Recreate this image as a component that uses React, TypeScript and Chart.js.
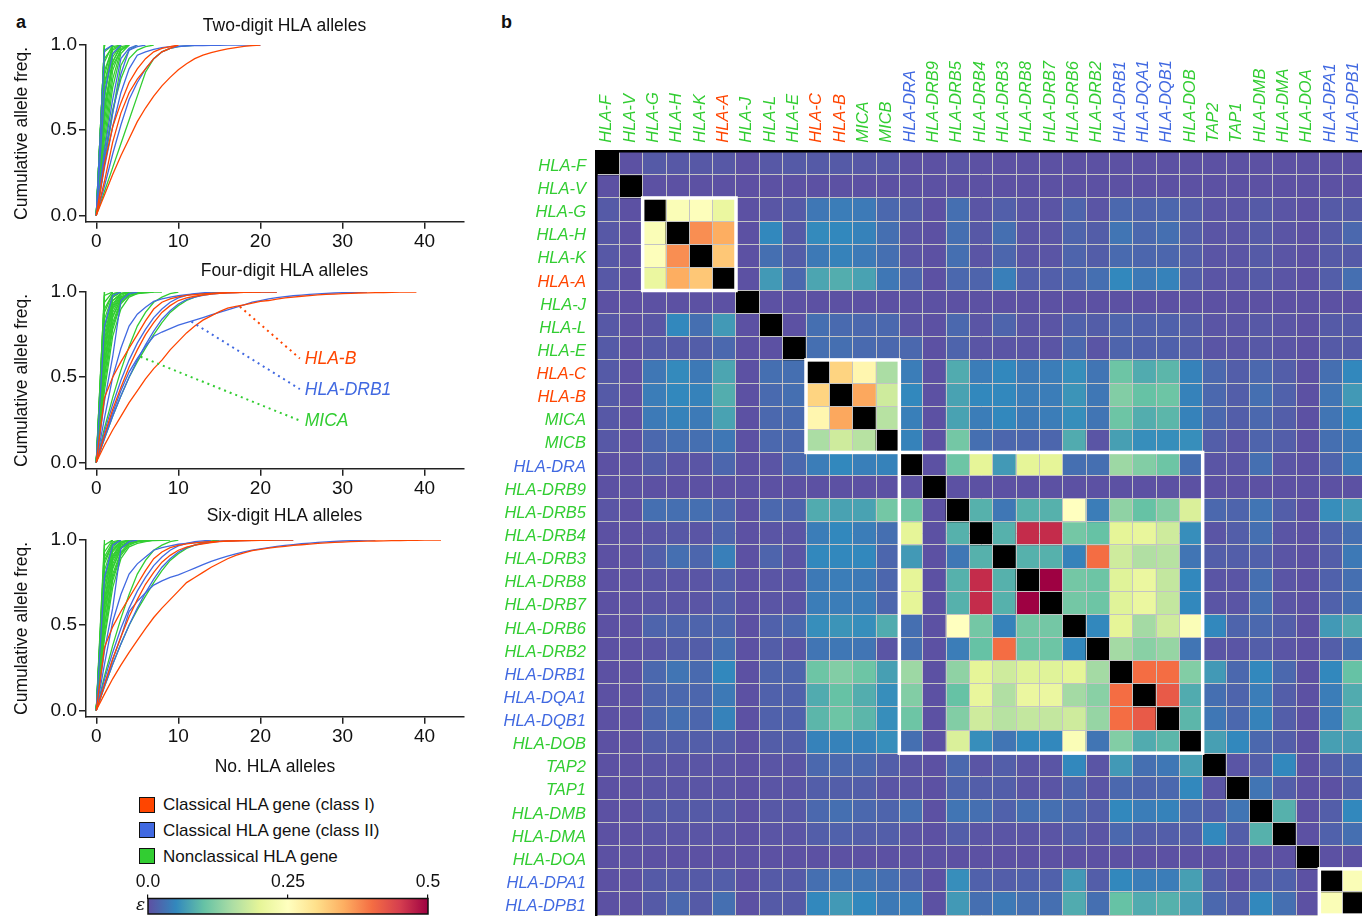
import React, { useEffect, useRef } from "react";
import { Chart, registerables } from "chart.js";

Chart.register(...registerables);
Chart.defaults.font.family = "'Liberation Sans', Arial, Helvetica, sans-serif";
Chart.defaults.color = "#111111";

const RED = "#ff4500";
const BLUE = "#4169e1";
const GREEN = "#32cd32";
const FONT = "'Liberation Sans', Arial, Helvetica, sans-serif";

// ---------------- Panel a : cumulative allele frequency curves ----------------
const xTickValues = [0, 10, 20, 30, 40];
const yTickValues = [0, 0.5, 1];

const twoDigitClassI = [
  [0, 0.3, 0.52, 0.66, 0.78, 0.86, 0.92, 0.96, 0.98, 0.99, 1],
  [0, 0.12, 0.24, 0.35, 0.45, 0.55, 0.63, 0.7, 0.76, 0.81, 0.855, 0.89, 0.92, 0.94, 0.955, 0.967, 0.977, 0.985, 0.992, 0.997, 1],
  [0, 0.2, 0.43, 0.6, 0.72, 0.8, 0.86, 0.92, 0.96, 0.98, 1],
];
const twoDigitClassII = [
  [0, 0.97, 1],
  [0, 0.28, 0.52, 0.72, 0.86, 0.94, 0.96, 0.975, 0.985, 0.99, 0.993, 0.995, 0.996, 0.997, 0.998, 0.9985, 0.999, 0.9994, 0.9997, 0.9999, 1],
  [0, 0.38, 0.68, 0.92, 0.98, 1],
  [0, 0.33, 0.6, 0.83, 0.97, 0.99, 1],
  [0, 0.72, 0.95, 1],
  [0, 0.17, 0.36, 0.53, 0.68, 0.78, 0.86, 0.92, 0.96, 0.98, 0.99, 0.995, 1],
];
const twoDigitNonclassical = [
  [0, 1], [0, 1], [0, 1], [0, 1], [0, 1],
  [0, 0.96, 1], [0, 0.9, 1], [0, 0.82, 1], [0, 0.75, 1], [0, 0.68, 1],
  [0, 0.85, 0.98, 1], [0, 0.7, 0.95, 1], [0, 0.6, 0.93, 1], [0, 0.55, 0.9, 1], [0, 0.78, 0.97, 1],
  [0, 0.5, 0.85, 0.98, 1], [0, 0.62, 0.9, 0.99, 1], [0, 0.45, 0.8, 0.97, 1],
  [0, 0.4, 0.75, 0.95, 1],
  [0, 0.3, 0.6, 0.88, 0.97, 1],
  [0, 0.35, 0.62, 0.8, 0.92, 0.97, 0.99, 1],
  [0, 0.14, 0.28, 0.42, 0.56, 0.7, 0.84, 0.92, 0.96, 0.98, 0.99, 0.995, 0.998, 1],
  [0, 0.92, 0.99, 1],
  [0, 0.65, 0.88, 0.97, 1],
];

const fourDigitClassI = [
  [0, 0.38, 0.5, 0.59, 0.67, 0.75, 0.83, 0.9, 0.94, 0.96, 0.972, 0.98, 0.985, 0.989, 0.992, 0.994, 0.996, 0.997, 0.998, 0.9987, 0.9993, 0.9997, 1],
  [0, 0.1, 0.19, 0.27, 0.35, 0.42, 0.49, 0.55, 0.6, 0.66, 0.71, 0.76, 0.8, 0.835, 0.86, 0.885, 0.905, 0.915, 0.925, 0.935, 0.945, 0.95, 0.958, 0.965, 0.97, 0.975, 0.979, 0.983, 0.986, 0.988, 0.99, 0.992, 0.994, 0.995, 0.996, 0.997, 0.998, 0.999, 0.9995, 1],
  [0, 0.16, 0.31, 0.44, 0.56, 0.66, 0.75, 0.82, 0.88, 0.92, 0.95, 0.965, 0.975, 0.982, 0.988, 0.992, 0.995, 0.997, 0.998, 0.999, 1],
];
const fourDigitClassII = [
  [0, 0.8, 0.98, 1],
  [0, 0.15, 0.29, 0.42, 0.53, 0.61, 0.68, 0.74, 0.765, 0.785, 0.805, 0.82, 0.835, 0.85, 0.865, 0.88, 0.895, 0.91, 0.925, 0.94, 0.95, 0.96, 0.967, 0.973, 0.978, 0.982, 0.986, 0.989, 0.992, 0.994, 0.996, 0.997, 0.998, 1],
  [0, 0.36, 0.62, 0.95, 0.99, 1],
  [0, 0.26, 0.5, 0.67, 0.8, 0.87, 0.91, 0.945, 0.96, 0.97, 0.978, 0.984, 0.989, 0.992, 0.994, 0.996, 0.997, 0.998, 0.9986, 0.999, 0.9995, 0.9998, 1],
  [0, 0.18, 0.34, 0.48, 0.6, 0.7, 0.78, 0.85, 0.9, 0.94, 0.965, 0.98, 0.99, 0.995, 1],
  [0, 0.14, 0.27, 0.39, 0.5, 0.6, 0.69, 0.77, 0.84, 0.89, 0.93, 0.955, 0.97, 0.98, 0.987, 0.992, 0.995, 0.997, 0.999, 1],
];
const fourDigitNonclassical = [
  [0, 0.14, 0.27, 0.39, 0.5, 0.59, 0.67, 0.75, 0.82, 0.88, 0.92, 0.95, 0.97, 0.985, 0.995, 1],
  [0, 0.2, 0.38, 0.54, 0.68, 0.8, 0.88, 0.94, 0.97, 0.99, 1],
  [0, 1], [0, 1], [0, 0.98, 1], [0, 0.94, 1], [0, 0.88, 0.99, 1], [0, 0.84, 0.98, 1],
  [0, 0.8, 0.97, 1], [0, 0.75, 0.95, 0.99, 1], [0, 0.7, 0.93, 0.99, 1], [0, 0.66, 0.91, 0.98, 1],
  [0, 0.6, 0.88, 0.97, 0.99, 1], [0, 0.55, 0.85, 0.96, 0.99, 1], [0, 0.5, 0.82, 0.95, 0.99, 1],
  [0, 0.46, 0.78, 0.93, 0.98, 0.995, 1], [0, 0.42, 0.74, 0.9, 0.97, 0.99, 1],
  [0, 0.63, 0.92, 0.99, 1], [0, 0.78, 0.97, 1], [0, 0.9, 0.99, 1], [0, 0.58, 0.86, 0.96, 1],
  [0, 0.72, 0.95, 0.99, 0.995, 0.998, 1], [0, 0.52, 0.8, 0.94, 0.98, 0.99, 0.995, 1],
  [0, 0.68, 0.9, 0.97, 0.99, 0.995, 0.997, 0.999, 1],
];

const sixDigitClassI = [
  [0, 0.37, 0.49, 0.58, 0.66, 0.74, 0.82, 0.89, 0.93, 0.955, 0.968, 0.977, 0.983, 0.987, 0.99, 0.992, 0.994, 0.995, 0.996, 0.997, 0.998, 0.9985, 0.999, 0.9995, 1],
  [0, 0.095, 0.185, 0.265, 0.34, 0.41, 0.48, 0.545, 0.6, 0.65, 0.7, 0.75, 0.78, 0.81, 0.84, 0.865, 0.89, 0.91, 0.925, 0.937, 0.945, 0.952, 0.958, 0.963, 0.968, 0.972, 0.976, 0.98, 0.983, 0.986, 0.988, 0.99, 0.992, 0.993, 0.994, 0.995, 0.996, 0.997, 0.998, 0.9985, 0.999, 0.9995, 1],
  [0, 0.15, 0.3, 0.43, 0.55, 0.65, 0.74, 0.81, 0.87, 0.91, 0.94, 0.958, 0.97, 0.978, 0.985, 0.99, 0.993, 0.995, 0.997, 0.998, 0.999, 1],
];
const sixDigitClassII = [
  [0, 0.78, 0.97, 1],
  [0, 0.15, 0.3, 0.43, 0.58, 0.64, 0.69, 0.735, 0.76, 0.78, 0.795, 0.815, 0.835, 0.855, 0.875, 0.89, 0.905, 0.918, 0.93, 0.94, 0.948, 0.955, 0.962, 0.968, 0.973, 0.978, 0.982, 0.986, 0.989, 0.992, 0.994, 0.996, 0.998, 0.999, 1],
  [0, 0.35, 0.6, 0.95, 0.99, 1],
  [0, 0.27, 0.52, 0.68, 0.8, 0.86, 0.9, 0.94, 0.955, 0.965, 0.975, 0.98, 0.985, 0.988, 0.991, 0.993, 0.995, 0.996, 0.997, 0.998, 0.9985, 0.999, 0.9995, 0.9998, 1],
  [0, 0.18, 0.34, 0.48, 0.6, 0.7, 0.78, 0.85, 0.9, 0.94, 0.965, 0.98, 0.99, 0.995, 1],
  [0, 0.14, 0.27, 0.39, 0.5, 0.6, 0.69, 0.77, 0.84, 0.89, 0.93, 0.955, 0.97, 0.98, 0.987, 0.992, 0.995, 0.997, 0.999, 1],
];
const sixDigitNonclassical = [
  [0, 0.14, 0.27, 0.39, 0.5, 0.59, 0.67, 0.75, 0.82, 0.88, 0.92, 0.95, 0.97, 0.985, 0.995, 1],
  [0, 0.2, 0.38, 0.54, 0.68, 0.8, 0.88, 0.94, 0.97, 0.99, 1],
  [0, 1], [0, 0.97, 1], [0, 0.93, 1], [0, 0.9, 0.99, 1], [0, 0.86, 0.98, 1], [0, 0.82, 0.97, 1],
  [0, 0.78, 0.95, 0.99, 1], [0, 0.74, 0.93, 0.98, 1], [0, 0.7, 0.91, 0.98, 1],
  [0, 0.65, 0.89, 0.97, 0.99, 1], [0, 0.6, 0.86, 0.96, 0.99, 1], [0, 0.55, 0.83, 0.95, 0.98, 0.995, 1],
  [0, 0.5, 0.8, 0.93, 0.98, 0.99, 1], [0, 0.45, 0.76, 0.91, 0.97, 0.99, 0.995, 1],
  [0, 0.42, 0.72, 0.89, 0.96, 0.98, 0.99, 1], [0, 0.62, 0.9, 0.98, 1], [0, 0.76, 0.96, 1],
  [0, 0.88, 0.98, 1], [0, 0.57, 0.84, 0.95, 1], [0, 0.7, 0.94, 0.99, 0.995, 1],
  [0, 0.5, 0.78, 0.92, 0.98, 0.99, 0.995, 1],
  [0, 0.66, 0.88, 0.96, 0.98, 0.99, 0.995, 0.997, 0.998, 1],
];

type Callout = { label: string; color: string; from: [number, number]; to: [number, number] };
const fourDigitCallouts: Callout[] = [
  { label: "HLA-B", color: RED, from: [17.5, 0.914], to: [24.8, 0.61] },
  { label: "HLA-DRB1", color: BLUE, from: [11.6, 0.826], to: [24.8, 0.43] },
  { label: "MICA", color: GREEN, from: [5.4, 0.62], to: [24.8, 0.245] },
];
const calloutLabelX = 25.4;

const legendItems = [
  { label: "Classical HLA gene (class I)", color: RED },
  { label: "Classical HLA gene (class II)", color: BLUE },
  { label: "Nonclassical HLA gene", color: GREEN },
];

// ---------------- Panel b : epsilon matrix ----------------
const genes = [
  "HLA-F", "HLA-V", "HLA-G", "HLA-H", "HLA-K", "HLA-A", "HLA-J", "HLA-L", "HLA-E", "HLA-C", "HLA-B",
  "MICA", "MICB", "HLA-DRA", "HLA-DRB9", "HLA-DRB5", "HLA-DRB4", "HLA-DRB3", "HLA-DRB8", "HLA-DRB7",
  "HLA-DRB6", "HLA-DRB2", "HLA-DRB1", "HLA-DQA1", "HLA-DQB1", "HLA-DOB", "TAP2", "TAP1", "HLA-DMB",
  "HLA-DMA", "HLA-DOA", "HLA-DPA1", "HLA-DPB1",
];
const classIGenes = ["HLA-A", "HLA-B", "HLA-C"];
const classIIGenes = ["HLA-DRA", "HLA-DRB1", "HLA-DQA1", "HLA-DQB1", "HLA-DPA1", "HLA-DPB1"];
const ldBlocks = [[2, 5], [9, 12], [13, 25], [31, 32]];
const epsilonMax = 0.5;
const colorbarTicks = [0, 0.25, 0.5];
const colorbarTickLabels = ["0.0", "0.25", "0.5"];

// lower triangle: row i holds epsilon with genes 0..i-1
const epsilonLower: number[][] = [
  [],
  [0.002],
  [0.01, 0.002],
  [0.008, 0.002, 0.24],
  [0.008, 0.002, 0.245, 0.375],
  [0.008, 0.002, 0.21, 0.35, 0.325],
  [0.002, 0.001, 0.002, 0.002, 0.002, 0.002],
  [0.008, 0.002, 0.006, 0.05, 0.028, 0.065, 0.002],
  [0.01, 0.002, 0.01, 0.01, 0.012, 0.022, 0.002, 0.002],
  [0.01, 0.002, 0.035, 0.052, 0.037, 0.075, 0.002, 0.028, 0.028],
  [0.01, 0.002, 0.04, 0.05, 0.045, 0.082, 0.002, 0.024, 0.028, 0.312],
  [0.008, 0.002, 0.038, 0.045, 0.038, 0.072, 0.002, 0.022, 0.024, 0.265, 0.355],
  [0.008, 0.002, 0.022, 0.028, 0.028, 0.035, 0.002, 0.022, 0.022, 0.15, 0.18, 0.16],
  [0.002, 0.002, 0.012, 0.005, 0.005, 0.02, 0.002, 0.005, 0.022, 0.04, 0.05, 0.042, 0.045],
  [0.002, 0.002, 0.002, 0.002, 0.002, 0.002, 0.002, 0.002, 0.002, 0.002, 0.002, 0.002, 0.002, 0.002],
  [0.005, 0.002, 0.028, 0.028, 0.028, 0.022, 0.002, 0.022, 0.018, 0.08, 0.072, 0.072, 0.11, 0.105, 0.002],
  [0.002, 0.002, 0.005, 0.008, 0.005, 0.018, 0.002, 0.005, 0.005, 0.04, 0.05, 0.04, 0.028, 0.2, 0.002, 0.085],
  [0.002, 0.002, 0.014, 0.028, 0.02, 0.042, 0.002, 0.018, 0.005, 0.05, 0.05, 0.05, 0.02, 0.065, 0.002, 0.035, 0.085],
  [0.002, 0.002, 0.005, 0.005, 0.005, 0.014, 0.002, 0.005, 0.005, 0.037, 0.04, 0.037, 0.02, 0.2, 0.002, 0.085, 0.465, 0.085],
  [0.002, 0.002, 0.005, 0.005, 0.005, 0.014, 0.002, 0.005, 0.005, 0.04, 0.04, 0.04, 0.02, 0.2, 0.002, 0.085, 0.465, 0.085, 0.5],
  [0.002, 0.002, 0.018, 0.018, 0.018, 0.02, 0.002, 0.016, 0.022, 0.055, 0.06, 0.055, 0.08, 0.028, 0.002, 0.25, 0.11, 0.045, 0.11, 0.11],
  [0.002, 0.002, 0.005, 0.012, 0.012, 0.028, 0.002, 0.012, 0.005, 0.033, 0.035, 0.033, 0.005, 0.028, 0.002, 0.04, 0.1, 0.4, 0.105, 0.105, 0.05],
  [0.002, 0.002, 0.022, 0.033, 0.024, 0.05, 0.002, 0.018, 0.018, 0.105, 0.12, 0.105, 0.07, 0.14, 0.002, 0.13, 0.2, 0.18, 0.195, 0.195, 0.2, 0.145],
  [0.002, 0.002, 0.018, 0.022, 0.02, 0.037, 0.002, 0.016, 0.016, 0.08, 0.1, 0.082, 0.055, 0.12, 0.002, 0.1, 0.205, 0.155, 0.21, 0.21, 0.145, 0.125, 0.4],
  [0.002, 0.002, 0.02, 0.028, 0.02, 0.045, 0.002, 0.016, 0.016, 0.09, 0.105, 0.09, 0.055, 0.105, 0.002, 0.12, 0.18, 0.16, 0.17, 0.17, 0.18, 0.135, 0.4, 0.42],
  [0.002, 0.002, 0.013, 0.013, 0.013, 0.013, 0.002, 0.012, 0.013, 0.045, 0.045, 0.045, 0.055, 0.028, 0.002, 0.19, 0.055, 0.033, 0.05, 0.05, 0.24, 0.033, 0.12, 0.08, 0.09],
  [0.002, 0.002, 0.005, 0.005, 0.005, 0.005, 0.002, 0.005, 0.005, 0.022, 0.022, 0.022, 0.013, 0.005, 0.002, 0.022, 0.005, 0.013, 0.005, 0.005, 0.05, 0.005, 0.065, 0.028, 0.035, 0.07],
  [0.002, 0.002, 0.005, 0.005, 0.005, 0.005, 0.002, 0.005, 0.005, 0.013, 0.013, 0.013, 0.005, 0.005, 0.002, 0.018, 0.013, 0.013, 0.005, 0.005, 0.018, 0.005, 0.022, 0.018, 0.022, 0.05, 0.005],
  [0.002, 0.002, 0.01, 0.01, 0.01, 0.01, 0.002, 0.008, 0.008, 0.022, 0.028, 0.022, 0.018, 0.028, 0.002, 0.033, 0.028, 0.016, 0.028, 0.028, 0.022, 0.013, 0.05, 0.04, 0.045, 0.022, 0.013, 0.033],
  [0.002, 0.002, 0.005, 0.005, 0.005, 0.005, 0.002, 0.005, 0.005, 0.013, 0.016, 0.013, 0.013, 0.005, 0.002, 0.013, 0.005, 0.005, 0.005, 0.005, 0.013, 0.005, 0.022, 0.013, 0.013, 0.013, 0.05, 0.013, 0.085],
  [0.002, 0.002, 0.002, 0.002, 0.002, 0.002, 0.002, 0.002, 0.002, 0.002, 0.002, 0.002, 0.002, 0.002, 0.002, 0.002, 0.002, 0.002, 0.002, 0.002, 0.002, 0.002, 0.002, 0.002, 0.002, 0.002, 0.002, 0.002, 0.002, 0.002],
  [0.002, 0.002, 0.01, 0.01, 0.01, 0.013, 0.002, 0.01, 0.01, 0.028, 0.033, 0.033, 0.028, 0.018, 0.002, 0.055, 0.016, 0.013, 0.016, 0.016, 0.065, 0.013, 0.05, 0.04, 0.04, 0.07, 0.013, 0.002, 0.013, 0.016, 0.002],
  [0.002, 0.002, 0.01, 0.022, 0.01, 0.028, 0.002, 0.01, 0.01, 0.05, 0.065, 0.05, 0.037, 0.04, 0.002, 0.065, 0.028, 0.037, 0.028, 0.028, 0.08, 0.028, 0.1, 0.08, 0.085, 0.07, 0.022, 0.013, 0.05, 0.028, 0.002, 0.24],
];

// ---------------- helpers ----------------
const spectralStops = ["#5e4fa2", "#3288bd", "#66c2a5", "#abdda4", "#e6f598", "#ffffbf", "#fee08b", "#fdae61", "#f46d43", "#d53e4f", "#9e0142"];
const stopRgb = spectralStops.map((h) => [parseInt(h.slice(1, 3), 16), parseInt(h.slice(3, 5), 16), parseInt(h.slice(5, 7), 16)]);
function spectralR(t: number): string {
  const tt = Math.max(0, Math.min(1, t));
  const p = tt * (stopRgb.length - 1);
  const i = Math.min(stopRgb.length - 2, Math.floor(p));
  const f = p - i;
  const a = stopRgb[i], b = stopRgb[i + 1];
  const c = a.map((v, k) => Math.round(v + (b[k] - v) * f));
  return `rgb(${c[0]},${c[1]},${c[2]})`;
}
function geneColor(g: string) {
  if (classIGenes.includes(g)) return RED;
  if (classIIGenes.includes(g)) return BLUE;
  return GREEN;
}
function epsilonAt(r: number, c: number): number | null {
  if (r === c) return null;
  return c < r ? epsilonLower[r][c] : epsilonLower[c][r];
}

// ---------------- curve panel ----------------
const panelTitlePlugin = {
  id: "panelTitle",
  afterDraw(chart: any, _args: any, opts: any) {
    const { ctx, chartArea } = chart;
    ctx.save();
    ctx.font = `17.5px ${FONT}`;
    ctx.fillStyle = "#111";
    ctx.textAlign = "center";
    ctx.textBaseline = "middle";
    ctx.fillText(opts.text, opts.x, chartArea.top - opts.gap);
    ctx.restore();
  },
};
const calloutLabelPlugin = {
  id: "calloutLabels",
  afterDraw(chart: any, _args: any, opts: any) {
    const items: Callout[] = opts.items || [];
    const { ctx } = chart;
    const xs = chart.scales.x, ys = chart.scales.y;
    ctx.save();
    ctx.font = `italic 17.5px ${FONT}`;
    ctx.textAlign = "left";
    ctx.textBaseline = "middle";
    items.forEach((it) => {
      ctx.fillStyle = it.color;
      ctx.fillText(it.label, xs.getPixelForValue(calloutLabelX), ys.getPixelForValue(it.to[1]) + 1);
    });
    ctx.restore();
  },
};

type PanelProps = {
  title: string; top: number; height: number; padTop: number; xHeight: number; titleGap: number;
  classI: number[][]; classII: number[][]; nonclassical: number[][]; callouts: Callout[]; xTitle: string;
};

function CurvePanel(p: PanelProps) {
  const ref = useRef<HTMLCanvasElement>(null);
  useEffect(() => {
    const toPts = (arr: number[]) => arr.map((v, i) => ({ x: i, y: v }));
    const mk = (arr: number[], color: string) => ({
      data: toPts(arr), borderColor: color, backgroundColor: color, borderWidth: 1.3,
      pointRadius: 0, fill: false, tension: 0,
    });
    const calloutSets = p.callouts.map((c) => ({
      data: [{ x: c.from[0], y: c.from[1] }, { x: c.to[0], y: c.to[1] }],
      borderColor: c.color, borderWidth: 2, borderDash: [2, 4], pointRadius: 0, fill: false,
    }));
    const datasets = [
      ...calloutSets,
      ...p.classI.map((a) => mk(a, RED)),
      ...p.classII.map((a) => mk(a, BLUE)),
      ...p.nonclassical.map((a) => mk(a, GREEN)),
    ];
    const axisColor = "#222";
    const chart = new Chart(ref.current!, {
      type: "line",
      data: { datasets } as any,
      plugins: [panelTitlePlugin, calloutLabelPlugin],
      options: {
        responsive: false,
        animation: false,
        events: [],
        layout: { padding: { left: 0, right: 106, top: p.padTop, bottom: 0 } },
        plugins: {
          legend: { display: false },
          tooltip: { enabled: false },
          panelTitle: { text: p.title, x: 284.5, gap: p.titleGap },
          calloutLabels: { items: p.callouts },
        } as any,
        scales: {
          x: {
            type: "linear", min: -1.25, max: 44.8,
            afterBuildTicks: (s: any) => { s.ticks = xTickValues.map((v) => ({ value: v })); },
            afterFit: (s: any) => { s.height = p.xHeight; },
            ticks: { font: { size: 19 }, color: "#111", padding: 2, maxRotation: 0 },
            grid: { drawOnChartArea: false, drawTicks: true, tickLength: 7, color: axisColor, lineWidth: 1.5 },
            border: { display: true, color: axisColor, width: 1.5 },
            title: { display: !!p.xTitle, text: p.xTitle, font: { size: 17.5 }, color: "#111", padding: { top: 0, bottom: 12.5 } },
          },
          y: {
            type: "linear", min: -0.038, max: 1.0,
            afterBuildTicks: (s: any) => { s.ticks = yTickValues.map((v) => ({ value: v })); },
            afterFit: (s: any) => { s.width = 86; },
            ticks: { font: { size: 19 }, color: "#111", padding: 2, callback: (v: any) => Number(v).toFixed(1) },
            grid: { drawOnChartArea: false, drawTicks: true, tickLength: 7, color: axisColor, lineWidth: 1.5 },
            border: { display: true, color: axisColor, width: 1.5 },
            title: { display: true, text: "Cumulative allele freq.", font: { size: 17.5 }, color: "#111", padding: { top: 11.5, bottom: 0 } },
          },
        },
      } as any,
    });
    return () => chart.destroy();
  }, []);
  return (
    <canvas ref={ref} width={570} height={p.height}
      style={{ position: "absolute", left: 0, top: p.top, width: 570, height: p.height }} />
  );
}

// ---------------- colour bar ----------------
function ColorBar() {
  const ref = useRef<HTMLCanvasElement>(null);
  useEffect(() => {
    const gradientPlugin = {
      id: "gradientBar",
      beforeDatasetsDraw(chart: any) {
        const { ctx, chartArea: a } = chart;
        const g = ctx.createLinearGradient(a.left, 0, a.right, 0);
        spectralStops.forEach((c, i) => g.addColorStop(i / (spectralStops.length - 1), c));
        ctx.save();
        ctx.fillStyle = g;
        ctx.fillRect(a.left, a.top, a.right - a.left, a.bottom - a.top);
        ctx.strokeStyle = "#111";
        ctx.lineWidth = 1.5;
        ctx.strokeRect(a.left, a.top, a.right - a.left, a.bottom - a.top);
        ctx.restore();
      },
    };
    const chart = new Chart(ref.current!, {
      type: "scatter",
      data: { datasets: [{ data: [] }] },
      plugins: [gradientPlugin],
      options: {
        responsive: false, animation: false, events: [],
        layout: { padding: { left: 48, right: 52, top: 0, bottom: 7 } },
        plugins: { legend: { display: false }, tooltip: { enabled: false } },
        scales: {
          x: {
            type: "linear", position: "top", min: 0, max: epsilonMax,
            afterBuildTicks: (s: any) => { s.ticks = colorbarTicks.map((v) => ({ value: v })); },
            afterFit: (s: any) => { s.height = 38.5; },
            ticks: { font: { size: 17.5 }, color: "#111", padding: 2, maxRotation: 0,
              callback: (_v: any, i: number) => colorbarTickLabels[i] },
            grid: { drawOnChartArea: false, tickLength: 4, color: "#111", lineWidth: 1.2 },
            border: { display: false },
          },
          y: { type: "linear", display: false, min: 0, max: 1 },
        },
      } as any,
    });
    return () => chart.destroy();
  }, []);
  return <canvas ref={ref} width={380} height={61} style={{ position: "absolute", left: 100, top: 860, width: 380, height: 61 }} />;
}

// ---------------- heatmap ----------------
function Heatmap() {
  const ref = useRef<HTMLCanvasElement>(null);
  useEffect(() => {
    const datasets = genes.map((g, r) => ({
      label: g,
      data: genes.map(() => [r, r + 1]),
      backgroundColor: genes.map((_, c) => {
        const v = epsilonAt(r, c);
        return v === null ? "#000000" : spectralR(v / epsilonMax);
      }),
      borderWidth: 0,
      grouped: false,
      barPercentage: 1,
      categoryPercentage: 1,
      yAxisID: "y",
    }));
    const blockPlugin = {
      id: "ldBlocks",
      afterDraw(chart: any) {
        const { ctx } = chart;
        const xs = chart.scales.x, ys = chart.scales.y;
        const half = (xs.getPixelForValue(1) - xs.getPixelForValue(0)) / 2;
        ctx.save();
        ctx.strokeStyle = "#ffffff";
        ctx.lineWidth = 3.5;
        ldBlocks.forEach(([a, b]) => {
          const x0 = xs.getPixelForValue(a) - half;
          const x1 = xs.getPixelForValue(b) + half;
          const y0 = ys.getPixelForValue(a);
          const y1 = ys.getPixelForValue(b + 1);
          ctx.strokeRect(x0, y0, x1 - x0, y1 - y0);
        });
        ctx.restore();
      },
    };
    const tickFont = { size: 16.5, style: "italic" as const };
    const gridStyle = { offset: true, color: "#c4c4c4", lineWidth: 1, drawTicks: false, z: 1 };
    const chart = new Chart(ref.current!, {
      type: "bar",
      data: { labels: genes, datasets } as any,
      plugins: [blockPlugin],
      options: {
        responsive: false, animation: false, events: [],
        layout: { padding: { left: 0, right: 24, top: 0, bottom: 13.3 } },
        plugins: { legend: { display: false }, tooltip: { enabled: false } },
        scales: {
          x: {
            type: "category", position: "top", offset: true,
            afterFit: (s: any) => { s.height = 116.7; },
            grid: gridStyle,
            border: { display: true, color: "#000", width: 2.5, z: 2 },
            ticks: {
              autoSkip: false, minRotation: 90, maxRotation: 90, padding: 9, labelOffset: 19, font: tickFont,
              color: (ctx: any) => geneColor(genes[ctx.index]),
            },
          },
          y: { type: "linear", min: 0, max: genes.length, reverse: true, display: false },
          y2: {
            type: "category", labels: genes, position: "left", offset: true,
            afterFit: (s: any) => { s.width = 106; },
            grid: gridStyle,
            border: { display: true, color: "#000", width: 2.5, z: 2 },
            ticks: {
              autoSkip: false, padding: 10, labelOffset: 3, font: tickFont,
              color: (ctx: any) => geneColor(genes[ctx.index]),
            },
          },
        },
      } as any,
    });
    return () => chart.destroy();
  }, []);
  return <canvas ref={ref} width={900} height={900} style={{ position: "absolute", left: 490, top: 35, width: 900, height: 900 }} />;
}

const panelSpecs: PanelProps[] = [
  { title: "Two-digit HLA alleles", top: 0, height: 250, padTop: 45, xHeight: 28.2, titleGap: 18.5,
    classI: twoDigitClassI, classII: twoDigitClassII, nonclassical: twoDigitNonclassical, callouts: [], xTitle: "" },
  { title: "Four-digit HLA alleles", top: 250, height: 250, padTop: 42, xHeight: 31.2, titleGap: 20.5,
    classI: fourDigitClassI, classII: fourDigitClassII, nonclassical: fourDigitNonclassical, callouts: fourDigitCallouts, xTitle: "" },
  { title: "Six-digit HLA alleles", top: 500, height: 290, padTop: 40, xHeight: 73.2, titleGap: 24,
    classI: sixDigitClassI, classII: sixDigitClassII, nonclassical: sixDigitNonclassical, callouts: [], xTitle: "No. HLA alleles" },
];

export default function App() {
  return (
    <div style={{ position: "fixed", left: 0, top: 0, width: 1362, height: 921, overflow: "hidden", background: "#fff", fontFamily: FONT, color: "#111" }}>
      <div style={{ position: "absolute", left: 16, top: 12.8, fontSize: 18, lineHeight: "18px", fontWeight: "bold" }}>a</div>
      <div style={{ position: "absolute", left: 501, top: 12.8, fontSize: 18, lineHeight: "18px", fontWeight: "bold" }}>b</div>
      {panelSpecs.map((s) => <CurvePanel key={s.title} {...s} />)}
      {legendItems.map((it, i) => (
        <div key={it.label} style={{ position: "absolute", left: 139, top: 796 + i * 25.8, height: 17, display: "flex", alignItems: "center" }}>
          <div style={{ width: 14, height: 14, background: it.color, border: "1.5px solid #111" }} />
          <span style={{ marginLeft: 8, fontSize: 17, lineHeight: "17px", whiteSpace: "nowrap" }}>{it.label}</span>
        </div>
      ))}
      <ColorBar />
      <div style={{ position: "absolute", left: 136, top: 896, fontSize: 17, lineHeight: "17px", fontStyle: "italic", fontFamily: "'DejaVu Serif', 'Liberation Serif', serif" }}>ε</div>
      <Heatmap />
    </div>
  );
}
